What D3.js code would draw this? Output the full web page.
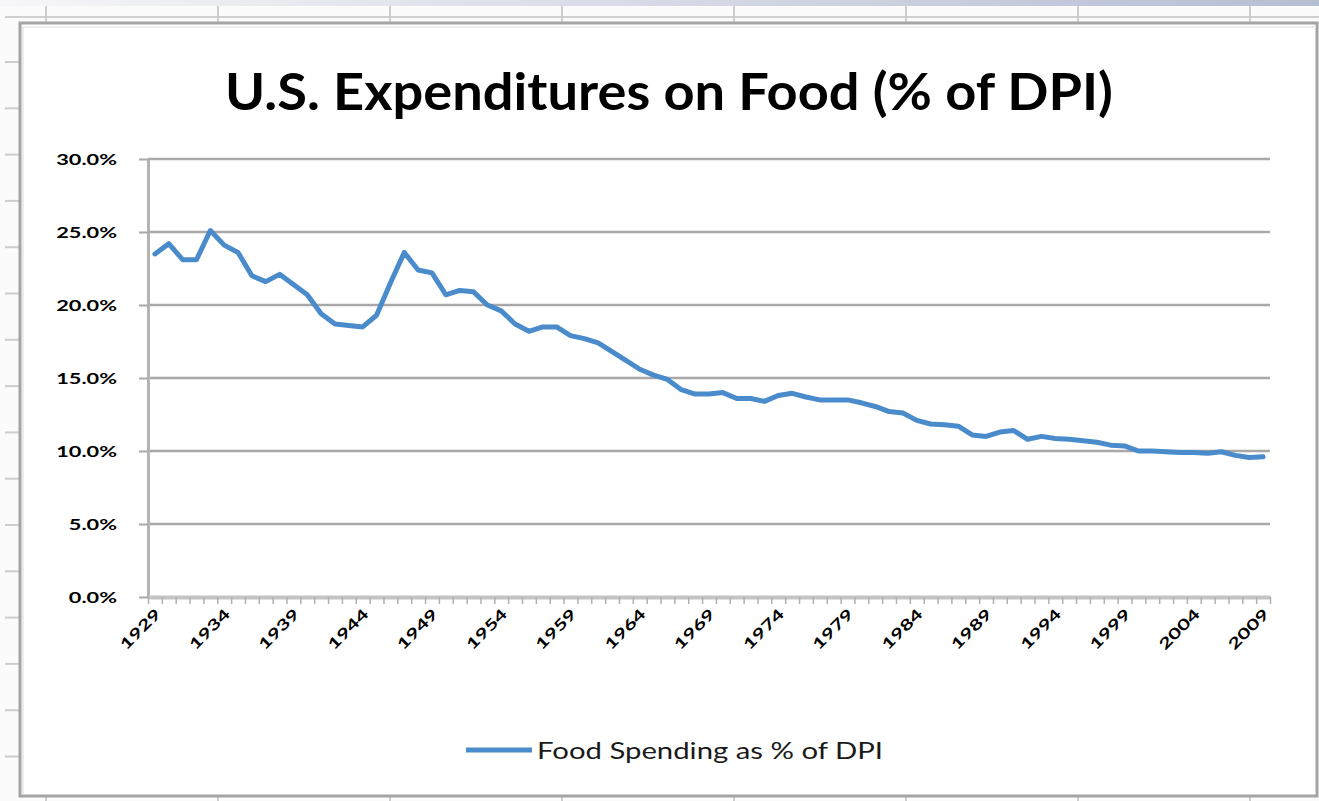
<!DOCTYPE html>
<html>
<head>
<meta charset="utf-8">
<script src="https://cdn.jsdelivr.net/npm/d3@7"></script>
<style>
  body { margin: 0; background: #f9f9f9; }
  svg { display: block; }
</style>
</head>
<body>
<div id="chart"></div>
<script>
	var w = 1319;
	var h = 801;

	// data
	var years = d3.range(1929, 2010);
	var foodShare = [
		23.5, 24.2, 23.1, 23.1, 25.1, 24.1, 23.6, 22.0, 21.6, 22.1,
		21.4, 20.7, 19.4, 18.7, 18.6, 18.5, 19.3, 21.5, 23.6, 22.4,
		22.2, 20.7, 21.0, 20.9, 20.0, 19.6, 18.7, 18.2, 18.5, 18.5,
		17.9, 17.7, 17.4, 16.8, 16.2, 15.6, 15.2, 14.9, 14.2, 13.9,
		13.9, 14.0, 13.6, 13.6, 13.4, 13.8, 13.95, 13.7, 13.5, 13.5,
		13.5, 13.3, 13.05, 12.7, 12.6, 12.1, 11.85, 11.8, 11.7, 11.1,
		11.0, 11.3, 11.4, 10.8, 11.0, 10.85, 10.8, 10.7, 10.6, 10.4,
		10.35, 10.0, 10.0, 9.95, 9.9, 9.9, 9.85, 9.95, 9.7, 9.55,
		9.6
	];
	var yTicks = [0, 5, 10, 15, 20, 25, 30];
	var labelYears = d3.range(1929, 2010, 5);
	var seriesName = "Food Spending as % of DPI";
	var title = "U.S. Expenditures on Food (% of DPI)";

	var lineColor = "#4a8bcc";
	var gridColor = "#a8a8a8";

	var svg = d3.select("#chart")
		.append("svg")
		.attr("width", w)
		.attr("height", h);

	// spreadsheet behind the chart
	var grad = svg.append("defs").append("linearGradient").attr("id", "topbar");
	grad.append("stop").attr("offset", "0%").attr("stop-color", "#f6f6f8");
	grad.append("stop").attr("offset", "100%").attr("stop-color", "#b6bed3");
	svg.append("rect").attr("x", 0).attr("y", 0).attr("width", w).attr("height", 6).attr("fill", "url(#topbar)");
	svg.append("rect").attr("x", 0).attr("y", 6).attr("width", w).attr("height", h - 6).attr("fill", "#fbfbfb");
	svg.append("line").attr("x1", 5).attr("x2", w).attr("y1", 17).attr("y2", 17)
		.style("stroke", "#cfcfcf").style("stroke-width", 2);
	[46, 218, 390, 562, 734, 906, 1078, 1250].forEach(function(cx) {
		svg.append("line").attr("x1", cx).attr("x2", cx).attr("y1", 6).attr("y2", 23)
			.style("stroke", "#cdcdcd").style("stroke-width", 2);
		svg.append("line").attr("x1", cx).attr("x2", cx).attr("y1", 796).attr("y2", h)
			.style("stroke", "#cdcdcd").style("stroke-width", 2);
	});
	for (var ry = 62; ry < h; ry += 46.3) {
		svg.append("line").attr("x1", 5).attr("x2", 19).attr("y1", ry).attr("y2", ry)
			.style("stroke", "#cdcdcd").style("stroke-width", 2);
	}

	// chart box
	svg.append("rect").attr("x", 20).attr("y", 23).attr("width", 1297).attr("height", 773)
		.attr("fill", "#ffffff").style("stroke", "#a4a4a4").style("stroke-width", 3);
	svg.append("line").attr("x1", 22).attr("x2", 1316).attr("y1", 27).attr("y2", 27)
		.style("stroke", "#ececec").style("stroke-width", 2);
	svg.append("line").attr("x1", 23).attr("x2", 23).attr("y1", 27).attr("y2", 794)
		.style("stroke", "#ececec").style("stroke-width", 2);

	// title
	svg.append("text")
		.attr("x", 669).attr("y", 110)
		.attr("text-anchor", "middle")
		.attr("textLength", 888).attr("lengthAdjust", "spacingAndGlyphs")
		.style("font-family", "Lato, 'Open Sans', sans-serif")
		.style("font-weight", 700).style("font-size", "52px")
		.style("fill", "#000")
		.text(title);

	// scales (plot box edges)
	var plotL = 148, plotR = 1270, plotT = 159, plotB = 597;
	var x = d3.scaleBand().domain(years).range([plotL, plotR]).padding(0);
	var xEdge = d3.scaleLinear().domain([0, years.length]).range([plotL, plotR]);
	var y = d3.scaleLinear().domain([0, 30]).range([plotB, plotT]);

	// gridlines
	svg.append("g").selectAll("line")
		.data(yTicks.filter(function(d) { return d > 0; }))
		.enter()
		.append("line")
		.attr("x1", plotL).attr("x2", plotR)
		.attr("y1", function(d) { return y(d); })
		.attr("y2", function(d) { return y(d); })
		.style("stroke", gridColor).style("stroke-width", 2.5);

	// y axis
	var yAxis = svg.append("g")
		.attr("transform", "translate(" + plotL + ",0)")
		.call(d3.axisLeft(y).tickValues(yTicks).tickSize(9).tickSizeOuter(0).tickFormat(""));
	yAxis.select(".domain").style("stroke", "#b4b4b4").style("stroke-width", 3);
	yAxis.selectAll(".tick line").style("stroke", "#a8a8a8").style("stroke-width", 2);

	svg.append("g").selectAll("g")
		.data(yTicks)
		.enter()
		.append("g")
		.attr("transform", function(d) { return "translate(117," + (y(d) + 5.5) + ")"; })
		.append("text")
		.attr("text-anchor", "end")
		.attr("transform", "scale(1.45,1)")
		.style("font-family", "Lato, sans-serif")
		.style("font-weight", 700).style("font-size", "15px")
		.style("fill", "#000")
		.text(function(d) { return d.toFixed(1) + "%"; });

	// x axis with a tick between every year
	var xAxis = svg.append("g")
		.attr("transform", "translate(0," + plotB + ")")
		.call(d3.axisBottom(xEdge).tickValues(d3.range(years.length + 1)).tickSize(7).tickSizeOuter(0).tickFormat(""));
	xAxis.select(".domain").style("stroke", "#c4c4c4").style("stroke-width", 4);
	xAxis.selectAll(".tick line").style("stroke", "#b0b0b0").style("stroke-width", 1.5);

	svg.append("g").selectAll("g")
		.data(labelYears)
		.enter()
		.append("g")
		.attr("transform", function(d) {
			return "translate(" + (x(d) + x.bandwidth() / 2 + 7) + ",615) rotate(-45)";
		})
		.append("text")
		.attr("text-anchor", "end")
		.attr("transform", "scale(1.45,1)")
		.style("font-family", "Lato, sans-serif")
		.style("font-weight", 700).style("font-size", "15px")
		.style("fill", "#000")
		.text(function(d) { return d; });

	// the series
	var line = d3.line()
		.x(function(d, i) { return x(years[i]) + x.bandwidth() / 2; })
		.y(function(d) { return y(d); });

	svg.append("path")
		.datum(foodShare)
		.attr("d", line)
		.attr("fill", "none")
		.style("stroke", lineColor)
		.style("stroke-width", 5)
		.style("stroke-linejoin", "round")
		.style("stroke-linecap", "round");

	// legend
	svg.append("line")
		.attr("x1", 466).attr("x2", 532).attr("y1", 750).attr("y2", 750)
		.style("stroke", lineColor).style("stroke-width", 5);
	svg.append("text")
		.attr("x", 537).attr("y", 759)
		.attr("textLength", 346).attr("lengthAdjust", "spacingAndGlyphs")
		.style("font-family", "Lato, sans-serif")
		.style("font-size", "23px")
		.style("fill", "#1a1a1a")
		.text(seriesName);
</script>
</body>
</html>
